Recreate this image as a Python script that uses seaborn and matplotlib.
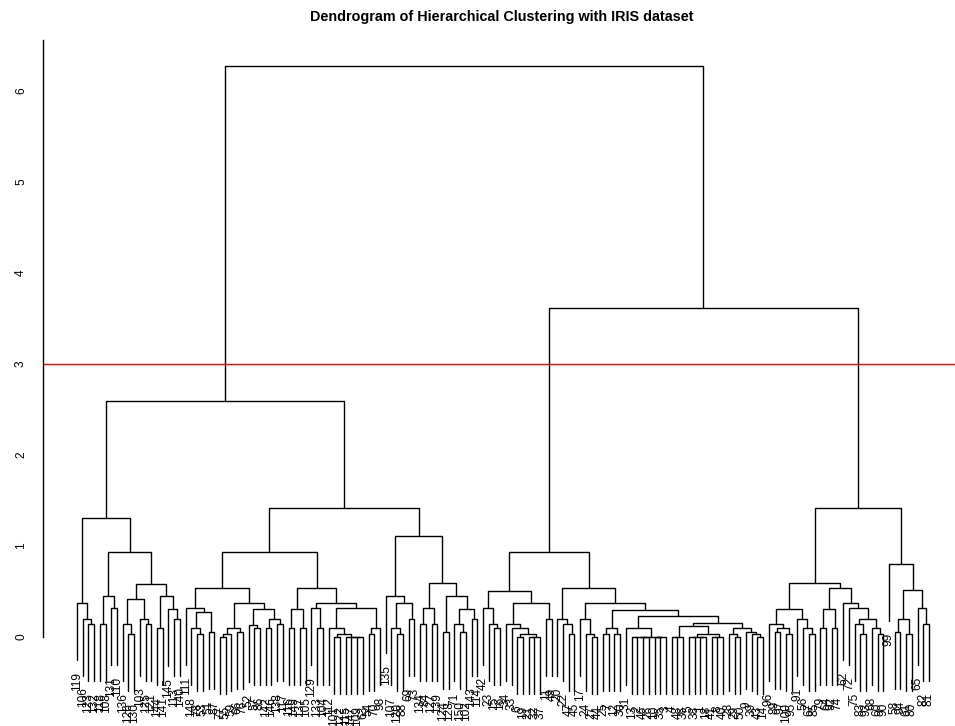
import matplotlib
matplotlib.use("Agg")
import matplotlib.pyplot as plt
import matplotlib.transforms as mtransforms
import pandas as pd
import seaborn as sns

# ---------------- data ----------------
title = "Dendrogram of Hierarchical Clustering with IRIS dataset"
cut_height = 3.0
hang_fraction = 0.1
y_ticks = [0, 1, 2, 3, 4, 5, 6]

# leaf labels (row numbers), in dendrogram order, per major cluster
labels_A = [119, 106, 123, 132, 118, 108, 131, 110, 136, 126, 130, 103, 125,
            121, 144, 141, 145, 113, 140]
labels_B = [111, 148, 78, 53, 51, 87, 77, 55, 59, 66, 76, 52, 57, 86, 142, 146,
            138, 117, 116, 149, 137, 105, 129, 133, 104, 112, 101, 122, 115,
            147, 109, 63, 54, 70, 98]
labels_C = [135, 107, 120, 88, 69, 73, 134, 84, 127, 139, 124, 128, 71, 150,
            102, 143, 114]
labels_M = [42, 23, 15, 16, 34, 33, 6, 19, 21, 32, 37, 11, 49, 20, 22, 47, 45,
            17, 24, 27, 44, 25, 7, 12, 30, 31, 13, 2, 46, 26, 10, 35, 3, 4, 48,
            36, 5, 38, 1, 18, 41, 8, 40, 28, 29, 50, 9, 39, 43, 14]
labels_R = [96, 89, 97, 100, 95, 91, 56, 67, 85, 79, 64, 92, 74, 62, 72, 75,
            83, 93, 68, 60, 90, 99, 58, 94, 61, 80, 65, 82, 81]

# merge structure of each cluster: "(left,right)height", "*" = next leaf
tree_A = ("((*,(*,(*,*)0.14)0.2)0.37,(((*,*)0.14,(*,*)0.32)0.45,"
          "(((*,(*,*)0.03)0.14,(*,(*,*)0.14)0.2)0.41,"
          "((*,*)0.10,(*,(*,*)0.2)0.3)0.45)0.58)0.93)1.30")
tree_B = ("(((*,((*,(*,*)0.03)0.1,(*,*)0.05)0.27)0.32,"
          "((((*,*)0.0,*)0.03,(*,*)0.05)0.1,"
          "((*,(*,*)0.1)0.13,((*,*)0.1,(*,*)0.14)0.2)0.3)0.37)0.54,"
          "(((*,*)0.1,(*,*)0.1)0.3,((*,(*,*)0.1)0.32,"
          "((*,((*,*)0.0,(*,(*,(*,*)0.0)0.0)0.0)0.03)0.1,"
          "((*,*)0.03,*)0.1)0.32)0.37)0.54)0.93")
tree_C = ("((*,((*,(*,*)0.03)0.1,(*,*)0.2)0.37)0.45,"
          "(((*,*)0.14,(*,*)0.14)0.32,"
          "((*,*)0.05,((*,(*,*)0.05)0.14,(*,*)0.2)0.3)0.45)0.59)1.11")
tree_M = ("(((*,(*,(*,*)0.1)0.14)0.32,"
          "((*,(*,((*,*)0.0,((*,*)0.0,*)0.0)0.03)0.1)0.14,(*,*)0.2)0.37)0.5,"
          "((*,(*,(*,*)0.03)0.14)0.2,((*,(*,(*,*)0.0)0.03)0.2,"
          "(((*,*)0.03,(*,*)0.03)0.1,"
          "((*,(((*,*)0.0,(*,*)0.0)0.0,((*,*)0.0,*)0.0)0.0)0.1,"
          "((((*,*)0.0,*)0.0,(((*,*)0.0,(*,*)0.0)0.0,((*,*)0.0,*)0.0)0.03)0.12,"
          "((*,(*,*)0.0)0.03,(*,(*,(*,*)0.0)0.03)0.05)0.1)0.15)0.23)0.29)0.37)0.54)0.93")
tree_R = ("((((*,((*,*)0.05,(*,*)0.03)0.1)0.14,(*,(*,(*,*)0.03)0.1)0.2)0.3,"
          "(((*,*)0.1,(*,*)0.1)0.3,"
          "(*,(*,((*,(*,*)0.03)0.14,(*,(*,*)0.03)0.1)0.2)0.32)0.37)0.54)0.59,"
          "(*,(((*,*)0.05,(*,*)0.03)0.2,(*,(*,*)0.14)0.32)0.51)0.8)1.42")

# heights of the top merges: (B,C), (A,(B,C)), (M,R), root
top_heights = [1.42, 2.59, 3.61, 6.27]


# ---------------- build tree ----------------
def parse(text, labels):
    it = iter(labels)
    pos = 0

    def node():
        nonlocal pos
        if text[pos] == "*":
            pos += 1
            return {"label": next(it)}
        pos += 1  # '('
        a = node()
        pos += 1  # ','
        b = node()
        pos += 1  # ')'
        j = pos
        while pos < len(text) and (text[pos].isdigit() or text[pos] == "."):
            pos += 1
        return {"h": float(text[j:pos]), "kids": [a, b]}

    return node()


A = parse(tree_A, labels_A)
B = parse(tree_B, labels_B)
C = parse(tree_C, labels_C)
M = parse(tree_M, labels_M)
R = parse(tree_R, labels_R)
bc = {"h": top_heights[0], "kids": [B, C]}
left = {"h": top_heights[1], "kids": [A, bc]}
right = {"h": top_heights[2], "kids": [M, R]}
root = {"h": top_heights[3], "kids": [left, right]}
hang = hang_fraction * root["h"]

leaves = []


def layout(n):
    if "kids" not in n:
        n["x"] = len(leaves)
        leaves.append(n)
        return
    for k in n["kids"]:
        layout(k)
    n["x"] = (n["kids"][0]["x"] + n["kids"][1]["x"]) / 2.0


layout(root)

rows = []
stack = [root]
link = 0
while stack:
    n = stack.pop()
    if "kids" not in n:
        continue
    a, b = n["kids"]
    ends = []
    for k in (a, b):
        if "kids" in k:
            ends.append(k["h"])
            stack.append(k)
        else:
            k["bottom"] = n["h"] - hang
            ends.append(k["bottom"])
    rows += [(link, a["x"], ends[0]), (link, a["x"], n["h"]),
             (link, b["x"], n["h"]), (link, b["x"], ends[1])]
    link += 1
df = pd.DataFrame(rows, columns=["link", "x", "y"])

# ---------------- draw ----------------
sns.set_style("white", {"axes.edgecolor": "black", "text.color": "black",
                        "xtick.color": "black", "ytick.color": "black"})
plt.rcParams["font.family"] = ["Liberation Sans", "DejaVu Sans"]

fig = plt.figure(figsize=(9.55, 7.26), dpi=100)
ax = fig.add_axes([43 / 955, 8 / 726, 912 / 955, 678 / 726])

sns.lineplot(data=df, x="x", y="y", units="link", estimator=None, sort=False,
             color="black", linewidth=1.0, ax=ax, legend=False)
ax.axhline(cut_height, color="red", linewidth=1.0)

ax.set_xlim(-5.946, 153.55)
ax.set_ylim(-0.893, 6.557)
for s in ["top", "right", "bottom"]:
    ax.spines[s].set_visible(False)
ax.spines["left"].set_bounds(0, 6.557)
ax.spines["left"].set_linewidth(1.0)
ax.set_xticks([])
ax.set_yticks(y_ticks)
ax.set_yticklabels([str(t) for t in y_ticks])
ax.tick_params(axis="y", length=6.5, width=1.0, pad=5, labelsize=8.6,
               labelrotation=90)
for lbl in ax.get_yticklabels():
    lbl.set_va("center")
ax.set_xlabel("")
ax.set_ylabel("")

off = mtransforms.offset_copy(ax.transData, fig=fig, x=0, y=-12, units="dots")
for lf in leaves:
    ax.text(lf["x"], lf["bottom"], str(lf["label"]), rotation=90, ha="center",
            va="top", fontsize=8.6, transform=off, clip_on=False)

fig.text(501.5 / 955, 1 - 17 / 726, title, ha="center", va="center",
         fontsize=10.4, fontweight="bold")

fig.savefig("out.png", dpi=100)
